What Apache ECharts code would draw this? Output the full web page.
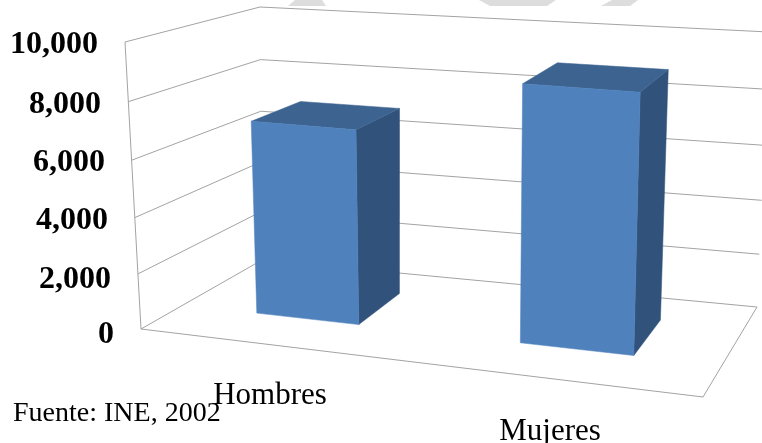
<!DOCTYPE html>
<html><head><meta charset="utf-8">
<script src="https://cdn.jsdelivr.net/npm/echarts@6/dist/echarts.min.js"></script>
<style>html,body{margin:0;padding:0;background:#fff}#c{width:762px;height:443px}</style>
</head><body><div id="c"></div>
<script>
const categories = ['Hombres', 'Mujeres'];
const values = [7000, 9000];
const yTicks = [0, 2000, 4000, 6000, 8000, 10000];
const source = 'Fuente: INE, 2002';

// 3D box corners of the plot (picture space): floor then ceiling
const BOX = {
  A:[141,329], B:[703,397], C:[262,260], D:[757,307],
  At:[125,42], Bt:[713,87], Ct:[260,7], Dt:[769,32]
};
const BAR_DEPTH = [0.35, 0.76];
const mix = (p, q, t) => [p[0]+(q[0]-p[0])*t, p[1]+(q[1]-p[1])*t];
// u: across categories, d: depth, w: height; all 0..1
function project(u, d, w) {
  const pu = 0.1067*u*u + 0.8933*u;        // perspective foreshortening across
  const pw = w - 0.05*w*(1-w);             // and up
  const base = mix(mix(BOX.A,BOX.B,pu), mix(BOX.C,BOX.D,pu), d);
  const top  = mix(mix(BOX.At,BOX.Bt,pu), mix(BOX.Ct,BOX.Dt,pu), d);
  return mix(base, top, pw);
}
const poly = (points, fill) => ({type:'polygon', shape:{points}, style:{fill, stroke:fill, lineWidth:0.5}});
const line = points => ({type:'polyline', shape:{points}, style:{fill:null, stroke:'#a3a3a3', lineWidth:1}});

function renderWalls(params, api) {
  const r = params.coordSys;
  const w = (r.y + r.height - api.coord([0, api.value(1)])[1]) / r.height;
  const children = [line([project(0,0,w), project(0,1,w), project(1,1,w)])];
  if (api.value(1) === yTicks[0]) {
    children.push(line([project(0,0,0), project(1,0,0), project(1,1,0)]));
  }
  if (api.value(1) === yTicks[yTicks.length-1]) {
    children.push(line([project(0,0,0), project(0,0,1)]));
  }
  return {type:'group', children};
}
function renderBar(params, api) {
  const r = params.coordSys;
  const pt = api.coord([api.value(0), api.value(1)]);
  const half = api.size([1, 0])[0] * 0.2;
  const u0 = (pt[0] - half - r.x) / r.width, u1 = (pt[0] + half - r.x) / r.width;
  const w = (r.y + r.height - pt[1]) / r.height;
  const [d0, d1] = BAR_DEPTH;
  return {type:'group', children:[
    poly([project(u1,d0,0),project(u1,d1,0),project(u1,d1,w),project(u1,d0,w)], '#31527b'),
    poly([project(u0,d0,w),project(u1,d0,w),project(u1,d1,w),project(u0,d1,w)], '#3d6491'),
    poly([project(u0,d0,0),project(u1,d0,0),project(u1,d0,w),project(u0,d0,w)], '#4f81bd')
  ]};
}
const fmt = v => v.toLocaleString('en-US');
const labelInset = {0:0, 2000:3, 4000:6, 6000:9, 8000:13, 10000:16};
const labelLift = {0:6, 2000:0, 4000:0, 6000:0, 8000:0, 10000:2};
const tickStyle = {fontFamily:'Liberation Serif', fontSize:32, fontWeight:'bold', color:'#000'};
const catStyle = {fontFamily:'Liberation Serif', fontSize:31, color:'#000'};
const chart = echarts.init(document.getElementById('c'));
chart.setOption({
  animation:false,
  backgroundColor:'#fff',
  title:{text:source, left:8, top:395, textStyle:{fontFamily:'Liberation Serif', fontSize:28, fontWeight:'normal', color:'#000'}},
  grid:{left:130, right:72, top:46, height:292, outerBoundsMode:'none'},
  xAxis:{type:'category', data:categories, axisLine:{show:false}, axisTick:{show:false},
    axisLabel:Object.assign({interval:0, margin:42,
      formatter:(v,i)=> i===1 ? '{low|'+v+'}' : '{high|'+v+'}',
      rich:{high:catStyle, low:Object.assign({padding:[36,0,0,0]}, catStyle)}}, catStyle)},
  yAxis:{type:'value', min:0, max:10000, interval:2000, splitLine:{show:false}, axisLine:{show:false}, axisTick:{show:false},
    axisLabel:Object.assign({margin:16, formatter:v=>'{t'+v+'|'+fmt(v)+'}',
      rich:Object.fromEntries(yTicks.map(t=>['t'+t,Object.assign({padding:[0,labelInset[t],labelLift[t],0]}, tickStyle)]))}, tickStyle)},
  graphic:[
    {type:'polygon', silent:true, z:-1, shape:{points:[[295,0],[322,0],[326,6],[288,6]]}, style:{fill:'#dddddd'}},
    {type:'polygon', silent:true, z:-1, shape:{points:[[479,0],[556,0],[547,6],[490,6]]}, style:{fill:'#dddddd'}},
    {type:'polygon', silent:true, z:-1, shape:{points:[[612,0],[638,0],[630,6],[601,6]]}, style:{fill:'#dddddd'}}
  ],
  series:[
    {type:'custom', name:'walls', renderItem:renderWalls, encode:{x:0,y:1}, z:1,
      data:yTicks.map(t=>[0,t])},
    {type:'custom', name:'Población', renderItem:renderBar, encode:{x:0,y:1}, z:2,
      data:values.map((v,i)=>[i,v])}
  ]
});
</script></body></html>
